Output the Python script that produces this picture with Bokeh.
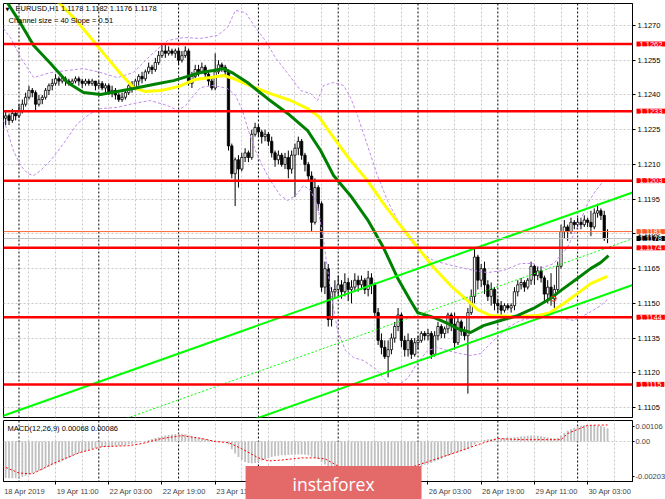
import numpy as np
from bokeh.plotting import figure
from bokeh.layouts import column
from bokeh.models import Range1d, FixedTicker, PrintfTickFormatter, Span, Label, ColumnDataSource
from bokeh.embed import file_html
from bokeh.resources import INLINE

# ---------------- data ----------------
symbol = "EURUSD,H1"
last_ohlc = [1.1178, 1.1182, 1.1176, 1.1178]
channel_text = "Channel size = 40 Slope = 0.51"
macd_text = "MACD(12,26,9) 0.00068 0.00086"

first_open = 1.1240
closes = [
    1.1230, 1.1231, 1.1229, 1.1232, 1.1231, 1.1233, 1.1236, 1.1239, 1.1242, 1.1241,
    1.1236, 1.1238, 1.1239, 1.1242, 1.1244, 1.1245, 1.1247, 1.1246, 1.1247, 1.1246,
    1.1245, 1.1246, 1.1247, 1.1246, 1.1245, 1.1246, 1.1245, 1.1246, 1.1244, 1.1245,
    1.1243, 1.1244, 1.1241, 1.1242, 1.1240, 1.1238, 1.1239, 1.1241, 1.1244, 1.1243,
    1.1246, 1.1248, 1.1247, 1.1250, 1.1252, 1.1251, 1.1254, 1.1257, 1.1259, 1.1258,
    1.1259, 1.1258, 1.1259, 1.1255, 1.1257, 1.1259, 1.1245, 1.1248, 1.1251, 1.1250,
    1.1252, 1.1249, 1.1246, 1.1243, 1.1250, 1.1253, 1.1252, 1.1250, 1.1218, 1.1206,
    1.1212, 1.1208, 1.1213, 1.1215, 1.1213, 1.1223, 1.1226, 1.1224, 1.1222, 1.1223,
    1.1220, 1.1215, 1.1212, 1.1214, 1.1210, 1.1213, 1.1208, 1.1214, 1.1217, 1.1220,
    1.1214, 1.1210, 1.1205, 1.1185, 1.1200, 1.1193, 1.1157, 1.1165, 1.1143, 1.1155,
    1.1156, 1.1158, 1.1155, 1.1159, 1.1156, 1.1157, 1.1160, 1.1158, 1.1160, 1.1156,
    1.1161, 1.1158, 1.1146, 1.1134, 1.1131, 1.1127, 1.1130, 1.1135, 1.1140, 1.1145,
    1.1134, 1.1130, 1.1134, 1.1128, 1.1133, 1.1134, 1.1137, 1.1136, 1.1137, 1.1128,
    1.1136, 1.1140, 1.1137, 1.1139, 1.1145, 1.1141, 1.1133, 1.1142, 1.1138, 1.1136,
    1.1146, 1.1153, 1.1170, 1.1160, 1.1165, 1.1158, 1.1153, 1.1156, 1.1150, 1.1149,
    1.1147, 1.1149, 1.1148, 1.1149, 1.1155, 1.1158, 1.1159, 1.1157, 1.1160, 1.1166,
    1.1162, 1.1164, 1.1161, 1.1154, 1.1157, 1.1152, 1.1156, 1.1166, 1.1181, 1.1183,
    1.1181, 1.1185, 1.1184, 1.1185, 1.1184, 1.1186, 1.1185, 1.1183, 1.1189, 1.1190,
    1.1188, 1.1178, 1.1178,
]
highs = [
    1.1242, 1.1233, 1.1232, 1.1234, 1.1233, 1.1236, 1.1238, 1.1241, 1.1244, 1.1243,
    1.1242, 1.1240, 1.1240, 1.1243, 1.1245, 1.1247, 1.1249, 1.1248, 1.1248, 1.1248,
    1.1247, 1.1247, 1.1248, 1.1248, 1.1247, 1.1247, 1.1247, 1.1247, 1.1246, 1.1246,
    1.1246, 1.1245, 1.1245, 1.1244, 1.1243, 1.1241, 1.1241, 1.1242, 1.1245, 1.1246,
    1.1247, 1.1249, 1.1250, 1.1251, 1.1254, 1.1253, 1.1256, 1.1259, 1.1262, 1.1262,
    1.1261, 1.1260, 1.1260, 1.1260, 1.1259, 1.1261, 1.1260, 1.1250, 1.1253, 1.1253,
    1.1254, 1.1253, 1.1250, 1.1248, 1.1258, 1.1255, 1.1254, 1.1253, 1.1251, 1.1219,
    1.1213, 1.1214, 1.1215, 1.1217, 1.1216, 1.1225, 1.1228, 1.1227, 1.1225, 1.1225,
    1.1224, 1.1222, 1.1216, 1.1216, 1.1215, 1.1215, 1.1216, 1.1216, 1.1219, 1.1222,
    1.1221, 1.1215, 1.1211, 1.1207, 1.1204, 1.1201, 1.1194, 1.1168, 1.1167, 1.1157,
    1.1160, 1.1162, 1.1160, 1.1163, 1.1161, 1.1160, 1.1163, 1.1162, 1.1162, 1.1161,
    1.1164, 1.1163, 1.1159, 1.1148, 1.1137, 1.1134, 1.1134, 1.1137, 1.1142, 1.1148,
    1.1146, 1.1136, 1.1137, 1.1135, 1.1135, 1.1136, 1.1138, 1.1138, 1.1139, 1.1138,
    1.1138, 1.1142, 1.1141, 1.1140, 1.1146, 1.1146, 1.1146, 1.1144, 1.1143, 1.1140,
    1.1148, 1.1156, 1.1174, 1.1171, 1.1167, 1.1168, 1.1160, 1.1159, 1.1157, 1.1152,
    1.1151, 1.1150, 1.1150, 1.1150, 1.1157, 1.1160, 1.1161, 1.1160, 1.1161, 1.1168,
    1.1167, 1.1166, 1.1166, 1.1162, 1.1160, 1.1163, 1.1158, 1.1168, 1.1184, 1.1186,
    1.1184, 1.1187, 1.1186, 1.1187, 1.1187, 1.1188, 1.1187, 1.1190, 1.1191, 1.1193,
    1.1191, 1.1190, 1.1182,
]
lows = [
    1.1228, 1.1227, 1.1227, 1.1228, 1.1229, 1.1230, 1.1232, 1.1235, 1.1238, 1.1239,
    1.1233, 1.1235, 1.1236, 1.1238, 1.1240, 1.1242, 1.1244, 1.1244, 1.1245, 1.1244,
    1.1244, 1.1244, 1.1245, 1.1244, 1.1243, 1.1244, 1.1244, 1.1244, 1.1242, 1.1243,
    1.1242, 1.1241, 1.1240, 1.1239, 1.1238, 1.1237, 1.1237, 1.1238, 1.1240, 1.1241,
    1.1242, 1.1244, 1.1245, 1.1246, 1.1249, 1.1249, 1.1250, 1.1253, 1.1256, 1.1256,
    1.1257, 1.1257, 1.1256, 1.1253, 1.1254, 1.1256, 1.1244, 1.1243, 1.1247, 1.1248,
    1.1249, 1.1247, 1.1244, 1.1242, 1.1242, 1.1249, 1.1250, 1.1248, 1.1216, 1.1204,
    1.1192, 1.1200, 1.1207, 1.1211, 1.1211, 1.1212, 1.1222, 1.1222, 1.1219, 1.1220,
    1.1218, 1.1213, 1.1209, 1.1210, 1.1209, 1.1208, 1.1204, 1.1206, 1.1196, 1.1214,
    1.1212, 1.1207, 1.1203, 1.1181, 1.1184, 1.1190, 1.1155, 1.1154, 1.1140, 1.1140,
    1.1152, 1.1153, 1.1152, 1.1153, 1.1151, 1.1150, 1.1155, 1.1155, 1.1156, 1.1154,
    1.1153, 1.1154, 1.1144, 1.1132, 1.1128, 1.1126, 1.1118, 1.1128, 1.1133, 1.1138,
    1.1131, 1.1127, 1.1127, 1.1126, 1.1127, 1.1130, 1.1133, 1.1134, 1.1134, 1.1126,
    1.1127, 1.1134, 1.1135, 1.1135, 1.1137, 1.1138, 1.1130, 1.1132, 1.1136, 1.1134,
    1.1111, 1.1145, 1.1150, 1.1156, 1.1157, 1.1154, 1.1151, 1.1149, 1.1147, 1.1146,
    1.1145, 1.1146, 1.1147, 1.1146, 1.1147, 1.1153, 1.1156, 1.1155, 1.1156, 1.1158,
    1.1158, 1.1160, 1.1159, 1.1151, 1.1150, 1.1149, 1.1148, 1.1155, 1.1165, 1.1178,
    1.1177, 1.1180, 1.1182, 1.1183, 1.1182, 1.1183, 1.1183, 1.1179, 1.1182, 1.1187,
    1.1186, 1.1177, 1.1176,
]
# MACD histogram, in units of 1e-5
macd_e5 = [
    -186, -188, -189, -189, -188, -186, -182, -177, -170, -164,
    -158, -152, -146, -138, -130, -122, -115, -107, -99, -91,
    -83, -75, -67, -60, -54, -48, -42, -37, -33, -30,
    -28, -26, -25, -24, -22, -21, -20, -18, -15, -11,
    -7, -3, 0, 3, 8, 13, 18, 23, 27, 31,
    34, 37, 39, 40, 40, 38, 33, 28, 24, 20,
    17, 14, 11, 8, 6, 4, 3, 1, -15, -40,
    -62, -80, -95, -105, -110, -112, -110, -105, -98, -92,
    -86, -80, -76, -73, -71, -70, -69, -68, -68, -67,
    -67, -68, -70, -78, -85, -90, -105, -118, -128, -134,
    -137, -139, -140, -140, -140, -140, -141, -140, -139, -138,
    -137, -137, -140, -144, -148, -150, -150, -148, -145, -142,
    -142, -143, -142, -140, -137, -132, -126, -120, -114, -110,
    -103, -96, -88, -80, -74, -67, -60, -55, -50, -45,
    -38, -28, -15, -5, 3, 8, 12, 14, 15, 16,
    17, 18, 19, 20, 22, 24, 26, 28, 30, 31,
    31, 30, 28, 25, 22, 19, 17, 20, 32, 45,
    56, 64, 72, 78, 82, 84, 85, 85, 84, 82,
    80, 76, 68,
]
signal_bars = [0, 5, 9, 15, 23, 30, 38, 42, 48, 54, 60, 64, 68, 72, 77, 80, 84, 90, 94, 97,
               102, 110, 120, 126, 136, 144, 149, 156, 168, 170, 176, 182]
signal_e5 = [-126, -162, -167, -115, -58, -26, -21, -10, 16, 31, 16, 0, -5, -37, -84, -100, -95, -84, -84, -89,
             -136, -152, -150, -115, -58, -10, 16, 10, 10, 42, 84, 86]

green_ma_x = [0.3, 1.5, 5.5, 9.4, 14.5, 19.6, 24.4, 29.5, 34.6, 39.4, 45.4, 51.5, 55.7, 59.6, 63.5,
              66.5, 69.5, 73.7, 79.7, 85.8, 91.8, 95.7, 99.6, 104.7, 109.8, 114.6, 118.8, 122.7, 124.9, 129.7,
              133.9, 136.9, 140.8, 144.7, 149.8, 154.9, 159.7, 164.8, 167.9, 172.9, 176.9, 179.9, 182.3]
green_ma_y = [1.12808, 1.12799, 1.12709, 1.12614, 1.12536, 1.12454, 1.12411, 1.12402, 1.12415, 1.12428,
              1.12445, 1.12462, 1.12480, 1.12497, 1.12506, 1.12514, 1.12493, 1.12454, 1.12385, 1.12320,
              1.12246, 1.12160, 1.12052, 1.11965, 1.11862, 1.11741, 1.11611, 1.11512, 1.11460, 1.11439,
              1.11413, 1.11391, 1.11374, 1.11404, 1.11426, 1.11447, 1.11478, 1.11521, 1.11555, 1.11607,
              1.11650, 1.11676, 1.11706]
yellow_ma_x = [14.5, 16.6, 22.0, 26.5, 31.0, 35.5, 39.4, 43.0, 47.6, 52.9, 58.1, 62.6, 66.5, 69.5, 75.2,
               80.6, 86.7, 91.8, 95.1, 99.6, 104.7, 109.8, 114.6, 119.7, 124.9, 129.7, 134.8, 139.9, 142.9,
               146.8, 154.9, 160.9, 164.8, 168.8, 172.9, 176.9, 181.9]
yellow_ma_y = [1.12843, 1.12804, 1.12726, 1.12648, 1.12570, 1.12493, 1.12432, 1.12415, 1.12419, 1.12436,
               1.12467, 1.12475, 1.12484, 1.12471, 1.12436, 1.12406, 1.12376, 1.12341, 1.12307, 1.12216,
               1.12117, 1.12030, 1.11931, 1.11836, 1.11741, 1.11655, 1.11577, 1.11512, 1.11473, 1.11447,
               1.11443, 1.11447, 1.11460, 1.11499, 1.11542, 1.11585, 1.11616]
band_up_x = [0.3, 2.4, 5.5, 9.4, 14.5, 19.6, 24.4, 29.5, 34.6, 39.4, 44.5, 49.7, 54.5, 59.6, 64.7,
             67.7, 70.1, 73.1, 76.1, 79.1, 82.1, 85.8, 89.7, 92.7, 94.8, 96.6, 99.6, 102.6, 104.7, 106.8,
             109.8, 112.8, 115.8, 119.7, 122.7, 125.8, 129.7, 133.9, 137.8, 141.7, 145.9, 150.7, 155.8,
             159.7, 161.8, 165.8, 169.9, 173.9, 176.0, 177.8, 180.8]
band_up_y = [1.12687, 1.12648, 1.12562, 1.12475, 1.12497, 1.12506, 1.12514, 1.12497, 1.12475, 1.12497,
             1.12570, 1.12635, 1.12648, 1.12644, 1.12657, 1.12691, 1.12765, 1.12756, 1.12691, 1.12635,
             1.12562, 1.12493, 1.12419, 1.12406, 1.12376, 1.12441, 1.12454, 1.12441, 1.12389, 1.12311,
             1.12182, 1.12052, 1.11944, 1.11836, 1.11771, 1.11719, 1.11685, 1.11668, 1.11655, 1.11642,
             1.11633, 1.11642, 1.11672, 1.11672, 1.11650, 1.11672, 1.11741, 1.11858, 1.11931, 1.11974,
             1.12030]
band_lo_x = [0.3, 1.5, 3.3, 5.5, 7.6, 9.4, 11.5, 14.5, 18.4, 22.6, 26.5, 29.5, 34.6, 39.4, 44.5,
             49.7, 52.7, 55.1, 57.5, 59.6, 63.5, 67.7, 70.1, 72.2, 74.0, 76.1, 78.2, 80.6, 83.6, 85.8,
             88.2, 90.6, 92.7, 94.8, 96.6, 98.7, 100.8, 103.2, 105.6, 108.6, 112.2, 115.8, 118.8, 121.8,
             124.9, 127.9, 130.9, 133.9, 137.8, 140.8, 143.8, 147.7, 151.9, 155.8, 159.7, 163.9, 167.9,
             171.8, 176.0, 179.9, 182.3]
band_lo_y = [1.12290, 1.12246, 1.12160, 1.12095, 1.12061, 1.12052, 1.12074, 1.12117, 1.12190, 1.12277,
             1.12320, 1.12341, 1.12346, 1.12363, 1.12376, 1.12354, 1.12333, 1.12354, 1.12398, 1.12432,
             1.12441, 1.12428, 1.12398, 1.12333, 1.12246, 1.12160, 1.12095, 1.12030, 1.11966, 1.11944,
             1.11966, 1.12009, 1.11987, 1.11922, 1.11771, 1.11555, 1.11383, 1.11296, 1.11266, 1.11253,
             1.11218, 1.11158, 1.11145, 1.11175, 1.11244, 1.11296, 1.11309, 1.11296, 1.11283, 1.11275,
             1.11283, 1.11339, 1.11395, 1.11426, 1.11439, 1.11439, 1.11439, 1.11426, 1.11456, 1.11490,
             1.11521]
channel_x = [0.0, 189.5]
channel_upper = [1.11013, 1.11979]
channel_middle = [1.10813, 1.11779]
channel_lower = [1.10613, 1.11579]
levels = [1.1262, 1.1233, 1.1203, 1.1174, 1.1144, 1.1115]
ask = 1.1181
bid = 1.1178
marker_x = [165.8]
marker_y = [1.1152]
price_ticks = [1.1105, 1.1120, 1.1135, 1.1150, 1.1165, 1.1180, 1.1195, 1.1210, 1.1225, 1.1240, 1.1255, 1.1270]
macd_tick_labels = ["-0.00203", "0.00", "0.00106"]
time_label_bars = [0, 16, 32, 48, 64, 80, 96, 112, 128, 144, 160, 176]
time_labels = ["18 Apr 2019", "19 Apr 11:00", "22 Apr 03:00", "22 Apr 19:00", "23 Apr 11:00", "24 Apr 03:00",
               "24 Apr 19:00", "25 Apr 11:00", "26 Apr 03:00", "26 Apr 19:00", "29 Apr 11:00", "30 Apr 03:00"]
day_starts = [5, 29, 53, 77, 101, 125, 149, 173]
brand = "instaforex"

# ---------------- derived ----------------
n = len(closes)
bars = list(range(n))
opens = [first_open] + closes[:-1]
body_top = [max(o, c) for o, c in zip(opens, closes)]
body_bot = [min(o, c) for o, c in zip(opens, closes)]
fills = ["white" if c >= o else "black" for o, c in zip(opens, closes)]
wick_hi = [max(h, t) for h, t in zip(highs, body_top)]
wick_lo = [min(l, b) for l, b in zip(lows, body_bot)]
macd = [v * 1e-5 for v in macd_e5]
signal = [v * 1e-5 for v in signal_e5]

FONT = "Liberation Sans"
FS = "7.5px"
GRID = "#C8C8C8"
vgrid_ticks = list(range(0, 192, 8))
AXIS_BOX_BAR = 190.7   # bar position just right of the plot frame, where price boxes start

# ---------------- main price panel ----------------
p = figure(frame_width=629, frame_height=414,
           x_range=Range1d(0.34, 189.5), y_range=Range1d(1.11007, 1.12795),
           output_backend="svg", toolbar_location=None,
           y_axis_location="right", x_axis_location=None,
           min_border_left=3, min_border_right=33, min_border_top=3, min_border_bottom=2)
p.background_fill_color = "white"
p.border_fill_color = "white"
p.outline_line_color = "black"
p.outline_line_width = 1

p.yaxis.ticker = FixedTicker(ticks=price_ticks)
p.yaxis.formatter = PrintfTickFormatter(format="%.4f")
p.yaxis.major_label_text_font = FONT
p.yaxis.major_label_text_font_size = FS
p.yaxis.major_label_text_color = "black"
p.yaxis.major_tick_out = 3
p.yaxis.major_tick_in = 0
p.yaxis.minor_tick_line_color = None
p.yaxis.major_label_standoff = 2
p.yaxis.axis_line_color = "black"

p.ygrid.ticker = FixedTicker(ticks=price_ticks)
p.ygrid.grid_line_color = GRID
p.ygrid.grid_line_dash = "2 2"
p.xgrid.ticker = FixedTicker(ticks=vgrid_ticks)
p.xgrid.grid_line_color = GRID
p.xgrid.grid_line_dash = "2 2"

for d in day_starts:
    p.add_layout(Span(location=d, dimension="height", line_color="black",
                      line_dash="2 2", line_width=1, level="underlay"))

src = ColumnDataSource(dict(x=bars, top=body_top, bottom=body_bot, hi=wick_hi, lo=wick_lo, fill=fills))
p.segment(x0="x", y0="lo", x1="x", y1="hi", source=src, line_color="black", line_width=1)
p.vbar(x="x", top="top", bottom="bottom", width=0.7, source=src,
       fill_color="fill", line_color="black", line_width=0.8)

BAND = "#C08AEE"
p.line(band_up_x, band_up_y, line_color=BAND, line_dash="3 2", line_width=1)
p.line(band_lo_x, band_lo_y, line_color=BAND, line_dash="3 2", line_width=1)
p.line(yellow_ma_x, yellow_ma_y, line_color="#FFFF00", line_width=3)
p.line(green_ma_x, green_ma_y, line_color="#008000", line_width=3)

p.line(channel_x, channel_upper, line_color="#00FF00", line_width=2)
p.line(channel_x, channel_lower, line_color="#00FF00", line_width=2)
p.line(channel_x, channel_middle, line_color="#00FF00", line_width=1, line_dash="2 2")

p.scatter(marker_x, marker_y, marker="circle", size=5, fill_color=None, line_color="#FF2000", line_width=1)

p.add_layout(Span(location=bid, dimension="width", line_color="#C0C0C0", line_width=1))
p.add_layout(Span(location=ask, dimension="width", line_color="#FF6A3A", line_width=1))
for lv in levels:
    p.add_layout(Span(location=lv, dimension="width", line_color="#FF0000", line_width=2.5))

# coloured price boxes on the right axis (placed in the right side panel so they are not clipped)
def price_box(fig, val, bg):
    fig.add_layout(Label(x=AXIS_BOX_BAR, x_units="data", y=val, y_units="data",
                         text=f"{val:.4f}", text_font=FONT, text_font_size=FS,
                         text_color="white", text_align="left", text_baseline="middle",
                         background_fill_color=bg, padding=(3, 0)), "right")

for lv in levels:
    if lv != 1.1174:
        price_box(p, lv, "#FF0000")
price_box(p, ask, "#FF5A2A")
price_box(p, bid, "black")
price_box(p, 1.1174, "#FF0000")

# header texts
p.add_layout(Label(x=2, x_units="screen", y=409, y_units="screen", text="\u25BC",
                   text_font="DejaVu Sans", text_font_size="5px", text_color="black",
                   text_align="left", text_baseline="middle"))
title_txt = symbol + "  " + " ".join(f"{v:.4f}" for v in last_ohlc)
p.add_layout(Label(x=12, x_units="screen", y=409, y_units="screen", text=title_txt,
                   text_font=FONT, text_font_size=FS, text_color="black",
                   text_align="left", text_baseline="middle"))
p.add_layout(Label(x=5, x_units="screen", y=397, y_units="screen", text=channel_text,
                   text_font=FONT, text_font_size=FS, text_color="black",
                   text_align="left", text_baseline="middle"))

# ---------------- MACD panel ----------------
m = figure(frame_width=629, frame_height=61,
           x_range=p.x_range, y_range=Range1d(-0.00206, 0.00109),
           output_backend="svg", toolbar_location=None,
           y_axis_location="right", x_axis_location="below",
           min_border_left=3, min_border_right=33, min_border_top=1, min_border_bottom=18)
m.background_fill_color = "white"
m.border_fill_color = "white"
m.outline_line_color = "black"
m.outline_line_width = 1

macd_ticks = [-0.0018, 0.0, 0.00078]
m.yaxis.ticker = FixedTicker(ticks=macd_ticks)
m.yaxis.major_label_overrides = {t: s for t, s in zip(macd_ticks, macd_tick_labels)}
m.yaxis.major_label_text_font = FONT
m.yaxis.major_label_text_font_size = FS
m.yaxis.major_tick_out = 2
m.yaxis.major_tick_in = 0
m.yaxis.minor_tick_line_color = None
m.yaxis.major_label_standoff = 1
m.yaxis.axis_line_color = "black"

label_pos = [b + 6.7 for b in time_label_bars]
m.xaxis.ticker = FixedTicker(ticks=label_pos, minor_ticks=time_label_bars)
m.xaxis.major_label_overrides = {t: s for t, s in zip(label_pos, time_labels)}
m.xaxis.major_tick_line_color = None
m.xaxis.major_tick_out = 3
m.xaxis.major_tick_in = 0
m.xaxis.minor_tick_out = 3
m.xaxis.minor_tick_in = 0
m.xaxis.minor_tick_line_color = "black"
m.xaxis.major_label_standoff = 2
m.xaxis.major_label_text_font = FONT
m.xaxis.major_label_text_font_size = FS
m.xaxis.axis_line_color = "black"

m.ygrid.ticker = FixedTicker(ticks=[0.0])
m.ygrid.grid_line_color = GRID
m.ygrid.grid_line_dash = "2 2"
m.xgrid.ticker = FixedTicker(ticks=vgrid_ticks)
m.xgrid.grid_line_color = GRID
m.xgrid.grid_line_dash = "2 2"
for d in day_starts:
    m.add_layout(Span(location=d, dimension="height", line_color="black",
                      line_dash="2 2", line_width=1, level="underlay"))

m.vbar(x=bars, top=macd, bottom=0, width=0.55, fill_color="#C0C0C0", line_color=None)
m.line(signal_bars, signal, line_color="#FF0000", line_dash="2 2", line_width=1)

m.add_layout(Label(x=4, x_units="screen", y=53, y_units="screen", text=macd_text,
                   text_font=FONT, text_font_size=FS, text_color="black",
                   text_align="left", text_baseline="middle"))
m.add_layout(Label(x=99.6, x_units="data", y=-0.00219, y_units="data", text=brand,
                   text_font="Open Sans", text_font_size="17.5px", text_color="white",
                   text_align="center", text_baseline="middle",
                   background_fill_color="#E46A6A", padding=(47, 6)), "below")

layout = column(p, m, spacing=0)
open("out.html", "w").write(file_html(layout, INLINE))
